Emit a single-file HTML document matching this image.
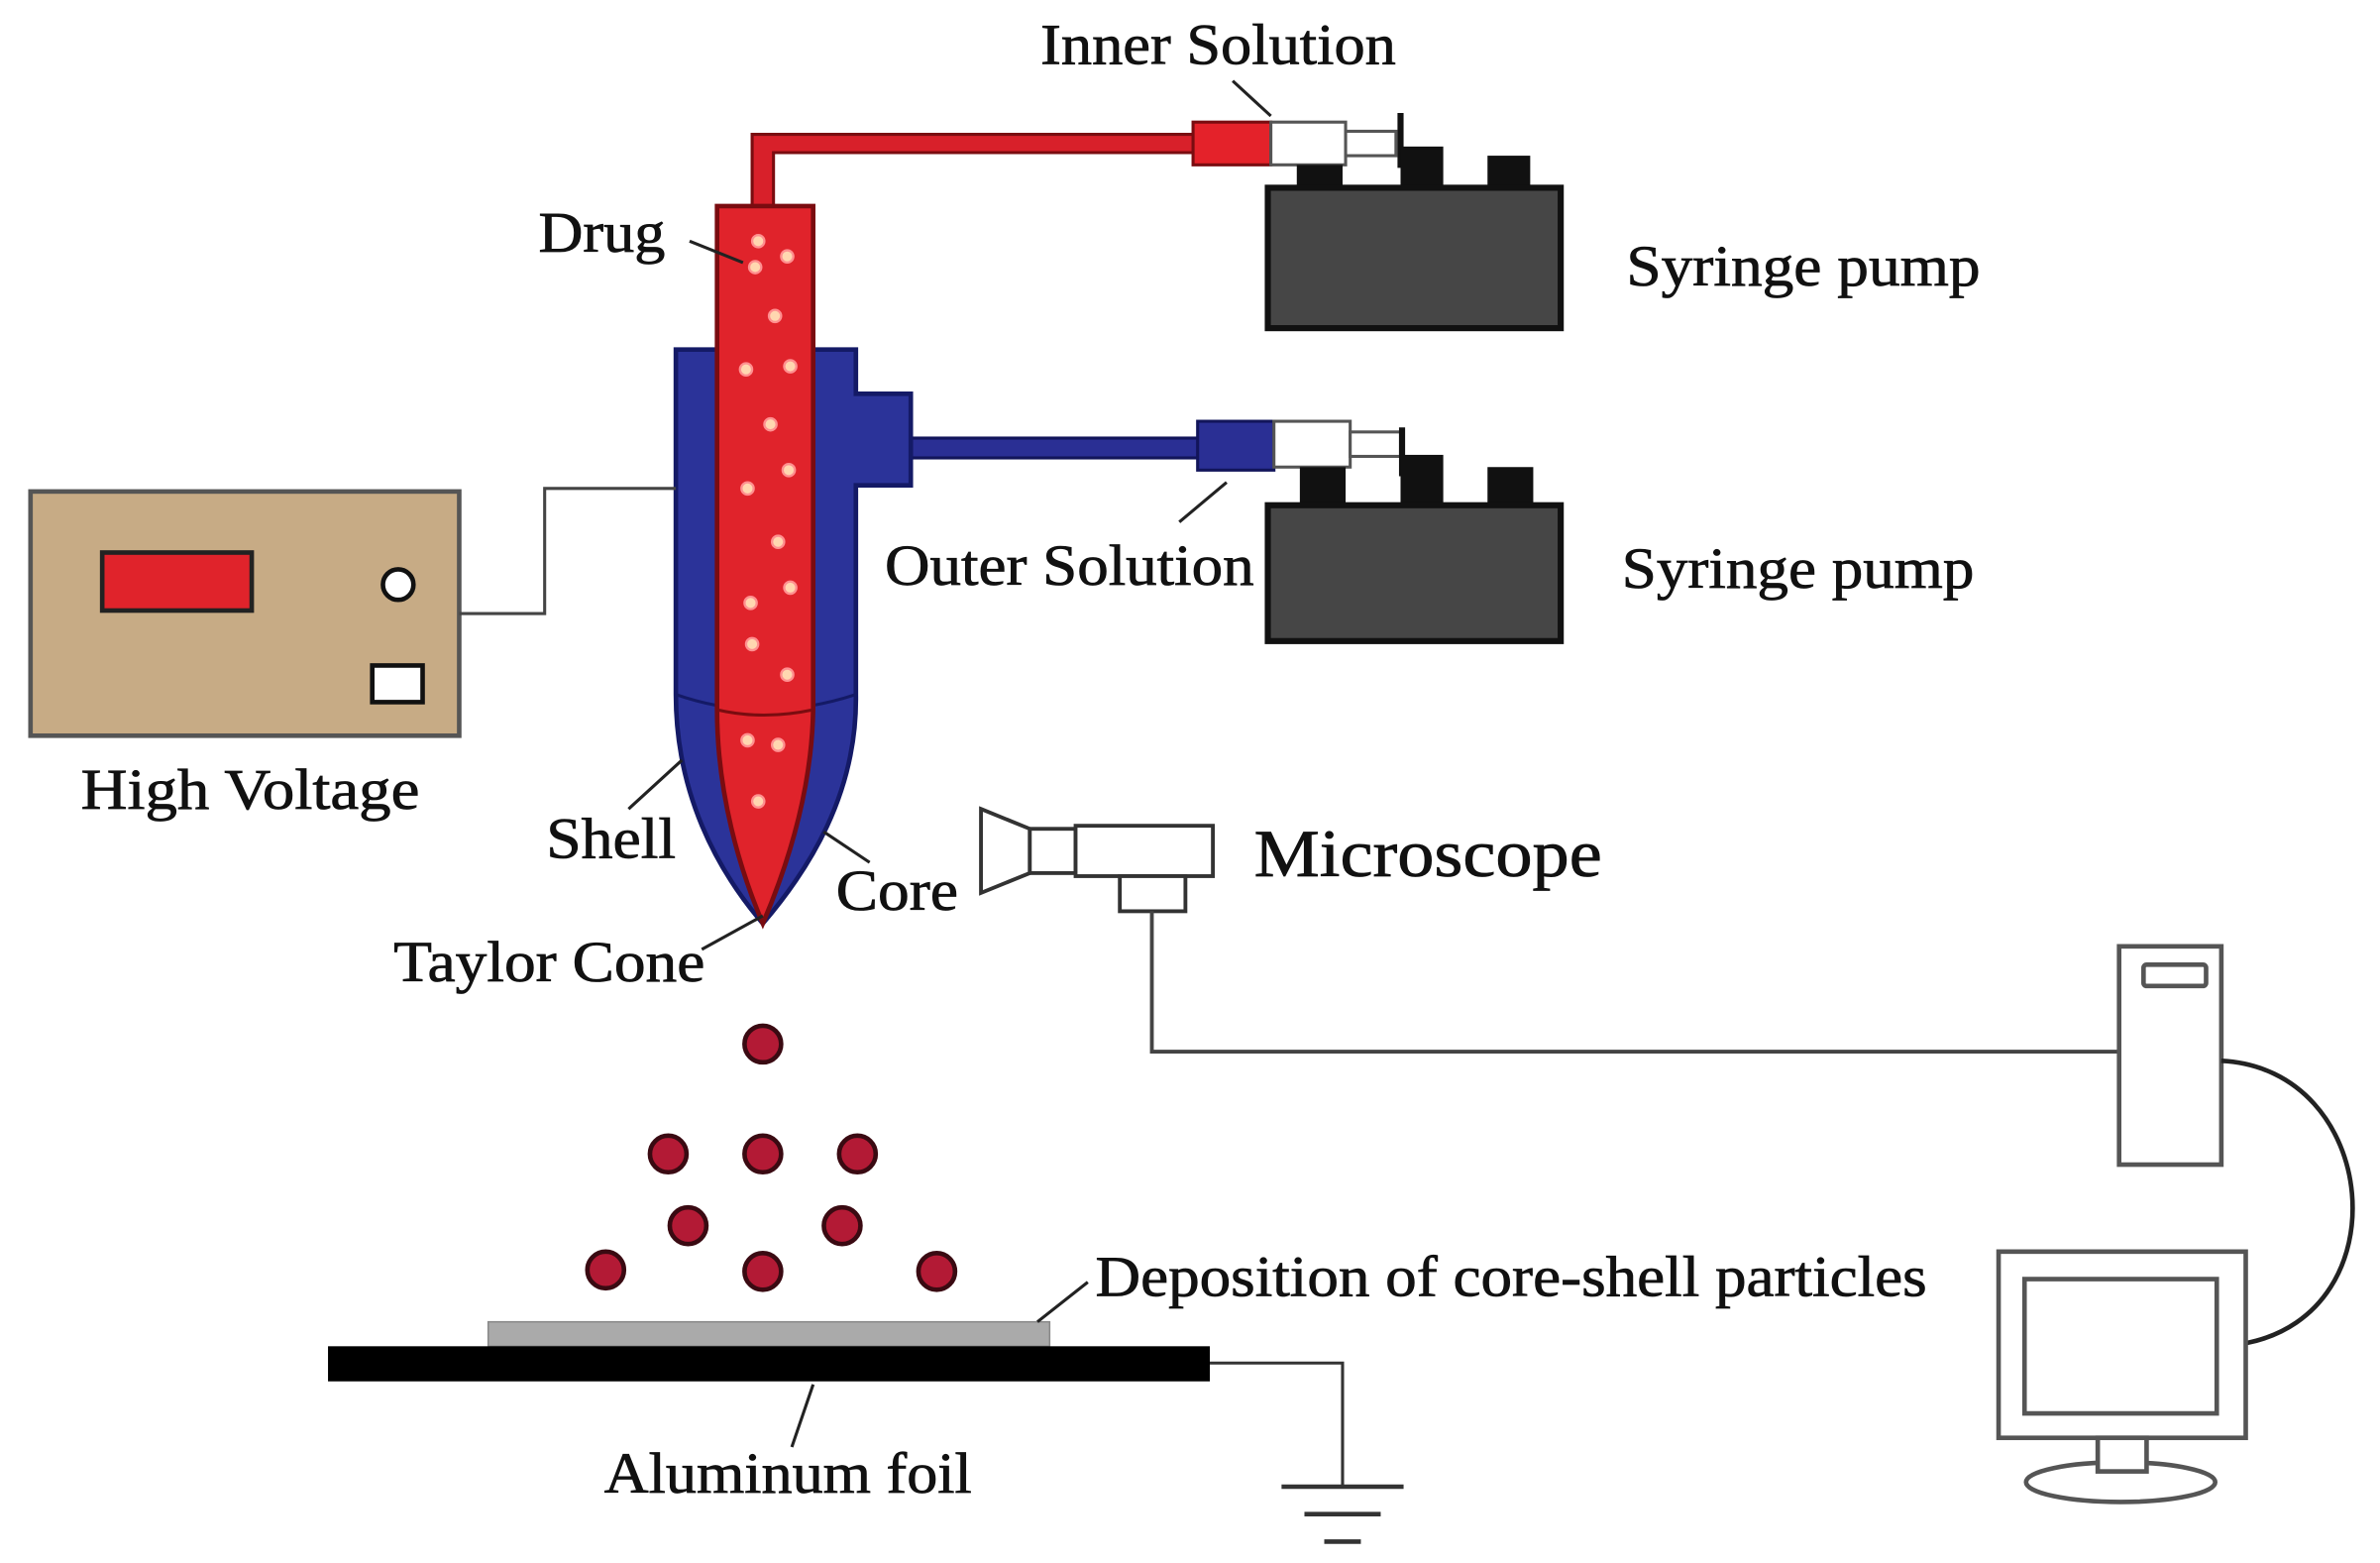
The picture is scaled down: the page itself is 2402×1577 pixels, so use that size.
<!DOCTYPE html>
<html><head><meta charset="utf-8"><style>
html,body{margin:0;padding:0;background:#fff;}
svg{display:block;}
text{font-family:"Liberation Serif",serif;fill:#111;stroke:#111;stroke-width:0.5;}
</style></head><body>
<svg width="2402" height="1577" viewBox="0 0 1560 1024" preserveAspectRatio="none" xmlns="http://www.w3.org/2000/svg">
<rect width="1560" height="1024" fill="#fff"/>
<!-- inner tube -->
<path d="M493 136 V88 H785 V100 H507 V136 Z" fill="#d8202a" stroke="#7a0c10" stroke-width="2"/>
<rect x="782" y="80" width="51" height="28" fill="#e4222a" stroke="#7a0c10" stroke-width="2"/>
<rect x="833" y="80" width="49" height="28" fill="#fff" stroke="#555" stroke-width="2"/>
<rect x="882" y="86" width="33" height="16" fill="#fff" stroke="#555" stroke-width="2"/>
<line x1="918" y1="74" x2="918" y2="110" stroke="#111" stroke-width="4"/>
<!-- pump 1 -->
<rect x="850" y="108" width="30" height="16" fill="#111"/>
<rect x="918" y="96" width="28" height="28" fill="#111"/>
<rect x="975" y="102" width="28" height="22" fill="#111"/>
<rect x="831" y="123" width="192" height="92" fill="#464646" stroke="#111" stroke-width="4"/>
<!-- outer tube -->
<rect x="595" y="287" width="192" height="13" fill="#2a2f94" stroke="#12155a" stroke-width="2"/>
<rect x="785" y="276" width="50" height="32" fill="#2a2f94" stroke="#12155a" stroke-width="2"/>
<rect x="835" y="276" width="50" height="30" fill="#fff" stroke="#555" stroke-width="2"/>
<rect x="885" y="283" width="33" height="16" fill="#fff" stroke="#555" stroke-width="2"/>
<line x1="919" y1="280" x2="919" y2="312" stroke="#111" stroke-width="4"/>
<!-- pump 2 -->
<rect x="852" y="306" width="30" height="25" fill="#111"/>
<rect x="918" y="298" width="28" height="33" fill="#111"/>
<rect x="975" y="306" width="30" height="25" fill="#111"/>
<rect x="831" y="331" width="192" height="89" fill="#464646" stroke="#111" stroke-width="4"/>
<!-- shell -->
<path d="M443 229 H561 V258 H597 V318 H561 V455 C562 520 530 570 500 605 C470 570 443 520 443 455 Z" fill="#2b3399" stroke="#141a66" stroke-width="3"/>
<path d="M443 455 Q500 475 561 455" fill="none" stroke="#141a66" stroke-width="2"/>
<!-- core -->
<path d="M470 135 H533 V465 C532 520 515 570 500 605 C485 570 470 520 470 465 Z" fill="#e0232b" stroke="#7a0c10" stroke-width="3"/>
<path d="M470 465 Q500 472 533 465" fill="none" stroke="#7a0c10" stroke-width="2"/>
<g fill="#ffd7b0" stroke="#ff9090" stroke-width="1.5">
<circle cx="497" cy="158" r="4"/><circle cx="516" cy="168" r="4"/><circle cx="495" cy="175" r="4"/>
<circle cx="508" cy="207" r="4"/><circle cx="489" cy="242" r="4"/><circle cx="518" cy="240" r="4"/>
<circle cx="505" cy="278" r="4"/><circle cx="490" cy="320" r="4"/><circle cx="517" cy="308" r="4"/>
<circle cx="510" cy="355" r="4"/><circle cx="492" cy="395" r="4"/><circle cx="518" cy="385" r="4"/>
<circle cx="493" cy="422" r="4"/><circle cx="516" cy="442" r="4"/><circle cx="490" cy="485" r="4"/>
<circle cx="510" cy="488" r="4"/><circle cx="497" cy="525" r="4"/>
</g>
<!-- high voltage -->
<rect x="20" y="322" width="281" height="160" fill="#c7ab85" stroke="#555" stroke-width="3"/>
<rect x="67" y="362" width="98" height="38" fill="#e0232b" stroke="#222" stroke-width="3"/>
<circle cx="261" cy="383" r="10" fill="#fff" stroke="#111" stroke-width="3"/>
<rect x="244" y="436" width="33" height="24" fill="#fff" stroke="#111" stroke-width="3"/>
<path d="M301 402 H357 V320 H443" fill="none" stroke="#444" stroke-width="2"/>
<!-- microscope -->
<path d="M643 530 L675 543 V572 L643 585 Z" fill="#fff" stroke="#333" stroke-width="2.5"/>
<rect x="675" y="543" width="30" height="29" fill="#fff" stroke="#333" stroke-width="2.5"/>
<rect x="705" y="541" width="90" height="33" fill="#fff" stroke="#333" stroke-width="2.5"/>
<rect x="734" y="574" width="43" height="23" fill="#fff" stroke="#333" stroke-width="2.5"/>
<path d="M755 597 V689 H1390" fill="none" stroke="#444" stroke-width="2.5"/>
<!-- computer -->
<rect x="1389" y="620" width="67" height="143" fill="#fff" stroke="#555" stroke-width="3"/>
<rect x="1405" y="632" width="41" height="14" rx="2" fill="#fff" stroke="#555" stroke-width="3"/>
<path d="M1456 695 C1560 700 1575 860 1472 880" fill="none" stroke="#222" stroke-width="3"/>
<rect x="1310" y="820" width="162" height="122" fill="#fff" stroke="#555" stroke-width="3"/>
<rect x="1327" y="838" width="126" height="88" fill="#fff" stroke="#555" stroke-width="3"/>
<ellipse cx="1390" cy="971" rx="62" ry="13" fill="#fff" stroke="#555" stroke-width="3"/>
<rect x="1375" y="942" width="32" height="22" fill="#fff" stroke="#555" stroke-width="3"/>
<!-- particles -->
<g fill="#b31a35" stroke="#3a0a12" stroke-width="3">
<circle cx="500" cy="684" r="12"/>
<circle cx="438" cy="756" r="12"/><circle cx="500" cy="756" r="12"/><circle cx="562" cy="756" r="12"/>
<circle cx="451" cy="803" r="12"/><circle cx="552" cy="803" r="12"/>
<circle cx="397" cy="832" r="12"/><circle cx="500" cy="833" r="12"/><circle cx="614" cy="833" r="12"/>
</g>
<!-- foil -->
<rect x="320" y="866" width="368" height="16" fill="#aaa" stroke="#888" stroke-width="1"/>
<rect x="215" y="882" width="578" height="23" fill="#000"/>
<path d="M793 893 H880 V973" fill="none" stroke="#333" stroke-width="2"/>
<line x1="840" y1="974" x2="920" y2="974" stroke="#333" stroke-width="3"/>
<line x1="855" y1="992" x2="905" y2="992" stroke="#333" stroke-width="3"/>
<line x1="868" y1="1010" x2="892" y2="1010" stroke="#333" stroke-width="3"/>
<!-- leader lines -->
<g stroke="#222" stroke-width="2" fill="none">
<line x1="808" y1="53" x2="833" y2="76"/>
<line x1="452" y1="158" x2="487" y2="172"/>
<line x1="773" y1="342" x2="804" y2="316"/>
<line x1="412" y1="530" x2="447" y2="498"/>
<line x1="540" y1="545" x2="570" y2="565"/>
<line x1="460" y1="622" x2="500" y2="600"/>
<line x1="680" y1="866" x2="713" y2="840"/>
<line x1="533" y1="907" x2="519" y2="948"/>
</g>
<!-- labels -->
<text x="682" y="42" font-size="38" textLength="233" lengthAdjust="spacingAndGlyphs">Inner Solution</text>
<text x="353" y="165" font-size="38" textLength="83" lengthAdjust="spacingAndGlyphs">Drug</text>
<text x="1066" y="187" font-size="38" textLength="232" lengthAdjust="spacingAndGlyphs">Syringe pump</text>
<text x="580" y="383" font-size="38" textLength="242" lengthAdjust="spacingAndGlyphs">Outer Solution</text>
<text x="1063" y="385" font-size="38" textLength="231" lengthAdjust="spacingAndGlyphs">Syringe pump</text>
<text x="53" y="530" font-size="38" textLength="222" lengthAdjust="spacingAndGlyphs">High Voltage</text>
<text x="358" y="562" font-size="38" textLength="85" lengthAdjust="spacingAndGlyphs">Shell</text>
<text x="548" y="596" font-size="38" textLength="80" lengthAdjust="spacingAndGlyphs">Core</text>
<text x="822" y="574" font-size="44" textLength="228" lengthAdjust="spacingAndGlyphs">Microscope</text>
<text x="258" y="643" font-size="38" textLength="204" lengthAdjust="spacingAndGlyphs">Taylor Cone</text>
<text x="718" y="849" font-size="38" textLength="545" lengthAdjust="spacingAndGlyphs">Deposition of core-shell particles</text>
<text x="396" y="978" font-size="38" textLength="241" lengthAdjust="spacingAndGlyphs">Aluminum foil</text>
</svg>
</body></html>
